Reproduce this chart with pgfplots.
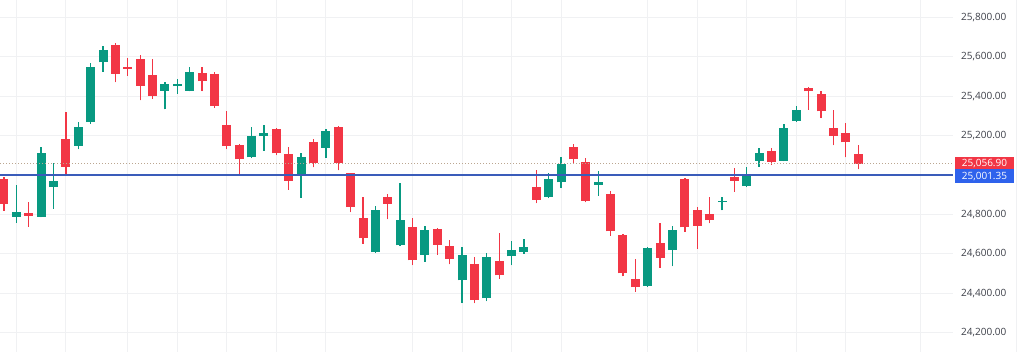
\documentclass[border=0pt]{standalone}
\usepackage{pgfplots}
\pgfplotsset{compat=1.18}
\usepackage{pgfplotstable}
\usepackage{fontspec}
\setmainfont{Open Sans}
\definecolor{tvgreen}{HTML}{089981}
\definecolor{tvred}{HTML}{F23645}
\definecolor{gridc}{HTML}{F0F1F3}
\definecolor{labelc}{HTML}{3C3F48}
\definecolor{blueline}{HTML}{3A5CBA}
\definecolor{bluebox}{HTML}{2E62EC}
\definecolor{dotc}{HTML}{BBA690}

\pgfplotstableread{
x o h l c
2 24789 24950 24758 24812
4 24789 25141 24785 25113
5 24939 25061 24828 24971
7 25148 25268 25131 25244
8 25268 25567 25261 25550
9 25572 25657 25525 25636
14 25428 25471 25333 25460
15 25451 25488 25413 25461
16 25428 25550 25425 25525
21 25089 25244 25085 25198
22 25197 25253 25123 25211
25 25004 25113 24885 25091
27 25138 25231 25087 25222
31 24608 24845 24605 24823
33 24643 24961 24640 24769
35 24596 24739 24559 24722
38 24465 24635 24349 24596
40 24374 24605 24360 24586
42 24587 24667 24542 24618
43 24608 24675 24601 24633
45 24890 25012 24882 24978
46 24963 25092 24933 25054
49 24950 25022 24895 24966
53 24436 24634 24432 24630
55 24618 24742 24537 24719
59 24862 24890 24820 24869
61 24944 25039 24940 25004
62 25072 25135 25042 25113
64 25072 25261 25070 25241
65 25273 25348 25270 25332
}\greendata

\pgfplotstableread{
x o h l c
1 24980 24990 24818 24854
3 24808 24865 24737 24793
6 25182 25320 25005 25042
10 25660 25668 25471 25514
11 25550 25594 25505 25540
12 25587 25611 25379 25453
13 25509 25589 25387 25400
17 25517 25550 25426 25476
18 25512 25525 25342 25352
19 25256 25325 25131 25148
20 25152 25155 25005 25079
23 25232 25237 25101 25110
24 25108 25143 24924 24970
26 25168 25182 25039 25059
28 25244 25250 25023 25059
29 25009 25012 24812 24837
30 24781 24890 24652 24680
32 24890 24903 24776 24854
34 24736 24784 24542 24567
36 24726 24731 24596 24647
37 24641 24672 24546 24574
39 24546 24584 24349 24365
41 24562 24706 24473 24490
44 24941 25025 24857 24874
47 25143 25155 25059 25079
48 25064 25084 24862 24869
50 24904 24919 24692 24714
51 24697 24702 24486 24500
52 24470 24574 24408 24431
54 24655 24756 24528 24579
56 24980 24983 24711 24734
57 24823 24835 24626 24742
58 24803 24887 24756 24769
60 24991 25034 24916 24971
63 25121 25135 25051 25067
66 25443 25449 25332 25424
67 25409 25426 25289 25323
68 25236 25332 25152 25198
69 25211 25264 25089 25165
70 25106 25152 25029 25056.9
}\reddata

\pgfplotsset{candle/.style={only marks, mark size=0pt, mark options={draw=none, fill=none},
  error bars/.cd, y dir=plus, y explicit, error mark=none}}

\begin{document}
\begin{tikzpicture}[x=1pt,y=1pt]
\useasboundingbox (0,0) rectangle (1024,352);
\fill[white] (0,0) rectangle (1024,352);
\begin{axis}[
  at={(0,0)}, anchor=south west,
  scale only axis, width=953pt, height=352pt,
  xmin=0.677, xmax=77.66, ymin=24101.5, ymax=25888.3,
  axis line style={draw=none},
  clip=false,
  xtick={2,6,11,15,19,23,27,34,38,42,46,53,57,61,65,69,75},
  xticklabels={},
  ytick={24200,24400,24600,24800,25200,25400,25600,25800},
  extra y ticks={25000}, extra y tick labels={},
  grid=major, major grid style={draw=gridc, line width=1pt},
  major tick length=0pt,
  yticklabel pos=right,
  scaled y ticks=false,
  /pgf/number format/assume math mode=true,
  yticklabel style={anchor=west, inner sep=0pt, xshift=8pt, font=\fontsize{10}{12}\selectfont, text=labelc,
    /pgf/number format/fixed, /pgf/number format/fixed zerofill,
    /pgf/number format/precision=2, /pgf/number format/1000 sep={,}},
]
% wicks
\addplot[candle, error bar style={draw=tvgreen, line width=1.3pt}]
  table[x=x, y=l, y error plus expr=\thisrow{h}-\thisrow{l}] {\greendata};
\addplot[candle, error bar style={draw=tvred, line width=1.3pt}]
  table[x=x, y=l, y error plus expr=\thisrow{h}-\thisrow{l}] {\reddata};
% bodies
\addplot[candle, error bar style={draw=tvgreen, line width=9pt}]
  table[x=x, y expr={min(\thisrow{o},\thisrow{c})}, y error plus expr={max(abs(\thisrow{c}-\thisrow{o}),5)}] {\greendata};
\addplot[candle, error bar style={draw=tvred, line width=9pt}]
  table[x=x, y expr={min(\thisrow{o},\thisrow{c})}, y error plus expr={max(abs(\thisrow{c}-\thisrow{o}),5)}] {\reddata};
% price lines
\addplot[draw=dotc, line width=1.1pt, dash pattern=on 1pt off 2pt] coordinates {(0.677,25056.9) (77.66,25056.9)};
\addplot[draw=blueline, line width=1.6pt] coordinates {(0.677,25001.35) (77.66,25001.35)};
\end{axis}
\draw[gridc, line width=1pt] (1016,0) -- (1016,352);
\fill[tvred] (955,182.5) rectangle (1014,195);
\node[text=white, font=\fontsize{10}{12}\selectfont, inner sep=0pt] at (984.5,188.7) {25,056.90};
\fill[bluebox] (955,169) rectangle (1014,182.5);
\node[text=white, font=\fontsize{10}{12}\selectfont, inner sep=0pt] at (984.5,175.7) {25,001.35};
\end{tikzpicture}
\end{document}
